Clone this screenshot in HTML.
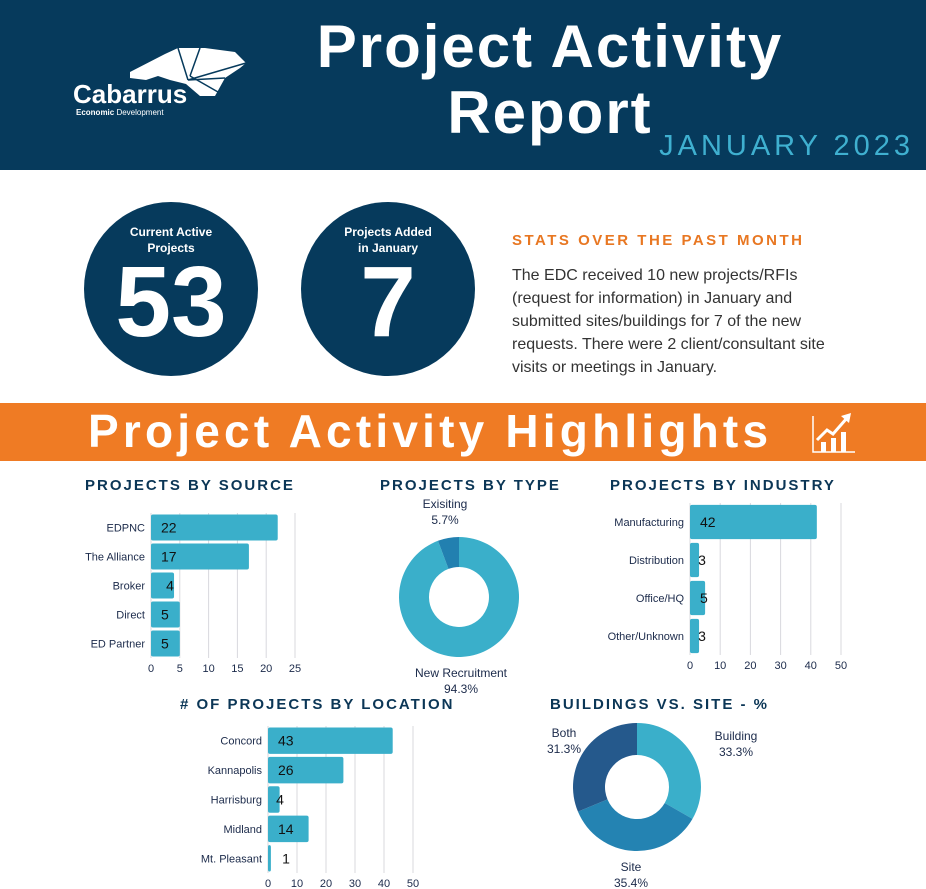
<!DOCTYPE html>
<html><head><meta charset="utf-8">
<style>
body{margin:0;width:926px;height:889px;overflow:hidden;background:#fff;font-family:"Liberation Sans",sans-serif;position:relative}
.abs{position:absolute}
.h{color:#0b3656;font-weight:bold;letter-spacing:2px;font-size:15px;white-space:nowrap}
</style></head><body>
<div class="abs" style="left:0;top:0;width:926px;height:170px;background:#063a5c"></div>
<svg class="abs" style="left:60px;top:40px" width="200" height="80" viewBox="0 0 200 80">
<polygon points="70,32 105,14 118,8 145,8 175,12 186,23 180,28 165,38 155,56 140,56 126,44 110,40 98,36 86,40 70,38" fill="#fff"/>
<path d="M118,8 L128,40 M140,8 L130,36 M128,40 L186,23 M128,40 L165,38 M130,36 L158,52" stroke="#063a5c" stroke-width="1.5"/>
<text x="13" y="63" fill="#fff" font-size="26" font-weight="bold" font-family="Liberation Sans">Cabarrus</text>
<text x="16" y="75" fill="#fff" font-size="8" font-family="Liberation Sans"><tspan font-weight="bold">Economic</tspan> Development</text>
</svg>
<div class="abs" style="left:280px;top:14px;width:540px;text-align:center;color:#fff;font-weight:bold;font-size:60px;line-height:66px;letter-spacing:2px">Project Activity<br>Report</div>
<div class="abs" style="right:12px;top:130px;color:#3fb0d0;font-size:29px;letter-spacing:4px">JANUARY 2023</div>

<div class="abs" style="left:84px;top:202px;width:174px;height:174px;border-radius:50%;background:#063a5c;color:#fff;text-align:center">
<div style="margin-top:22px;font-size:12px;font-weight:bold;line-height:16px">Current Active<br>Projects</div>
<div style="font-size:100px;font-weight:bold;line-height:92px">53</div></div>
<div class="abs" style="left:301px;top:202px;width:174px;height:174px;border-radius:50%;background:#063a5c;color:#fff;text-align:center">
<div style="margin-top:22px;font-size:12px;font-weight:bold;line-height:16px">Projects Added<br>in January</div>
<div style="font-size:100px;font-weight:bold;line-height:92px">7</div></div>

<div class="abs" style="left:512px;top:232px;color:#e87722;font-weight:bold;font-size:15px;letter-spacing:2.5px">STATS OVER THE PAST MONTH</div>
<div class="abs" style="left:512px;top:264px;width:342px;color:#333;font-size:16px;line-height:23px">The EDC received 10 new projects/RFIs (request for information) in January and submitted sites/buildings for 7 of the new requests. There were 2 client/consultant site visits or meetings in January.</div>

<div class="abs" style="left:0;top:403px;width:926px;height:58px;background:#ef7b24"></div>
<div class="abs" style="left:88px;top:404px;color:#fff;font-weight:bold;font-size:46px;letter-spacing:4.2px;white-space:nowrap">Project Activity Highlights</div>
<svg class="abs" style="left:811px;top:410px" width="45" height="45" viewBox="0 0 45 45">
<path d="M2,6 V42 H44" stroke="#fff" stroke-width="1.5" fill="none"/>
<rect x="10" y="32" width="5" height="10" fill="#fff"/><rect x="20" y="28" width="5" height="14" fill="#fff"/><rect x="30" y="22" width="5" height="20" fill="#fff"/>
<path d="M6,30 L16,20 L22,24 L36,8" stroke="#fff" stroke-width="3" fill="none"/><polygon points="30,6 40,3 38,13" fill="#fff"/>
</svg>

<div class="abs h" style="left:85px;top:477px">PROJECTS BY SOURCE</div>
<div class="abs h" style="left:380px;top:477px">PROJECTS BY TYPE</div>
<div class="abs h" style="left:610px;top:477px">PROJECTS BY INDUSTRY</div>
<div class="abs h" style="left:180px;top:696px"># OF PROJECTS BY LOCATION</div>
<div class="abs h" style="left:550px;top:696px">BUILDINGS VS. SITE - %</div>

<svg id="c" class="abs" style="left:0;top:0" width="926" height="889"></svg>
<script>
const srcCats=["EDPNC","The Alliance","Broker","Direct","ED Partner"];
const srcVals=[22,17,4,5,5];
const srcTicks=[0,5,10,15,20,25];
const indCats=["Manufacturing","Distribution","Office/HQ","Other/Unknown"];
const indVals=[42,3,5,3];
const indTicks=[0,10,20,30,40,50];
const locCats=["Concord","Kannapolis","Harrisburg","Midland","Mt. Pleasant"];
const locVals=[43,26,4,14,1];
const locTicks=[0,10,20,30,40,50];
const typeCats=["New Recruitment","Exisiting"];
const typeVals=[94.3,5.7];
const bldCats=["Building","Site","Both"];
const bldVals=[33.3,35.4,31.3];

const svg=document.getElementById('c');
const NS="http://www.w3.org/2000/svg";
function mk(t,a,txt){const e=document.createElementNS(NS,t);for(const k in a)e.setAttribute(k,a[k]);if(txt!==undefined)e.textContent=txt;svg.appendChild(e);return e;}

function barChart(name,cats,vals,ticks,x0,x1,top,bottom,barFrac){
  const max=ticks[ticks.length-1];
  const sx=v=>x0+(v/max)*(x1-x0);
  ticks.forEach(t=>{
    const g=mk('line',{x1:sx(t),x2:sx(t),y1:top,y2:bottom,stroke:'#d8d8de','stroke-width':1});
    
    
    const l=mk('text',{x:sx(t),y:bottom+14,'text-anchor':'middle','font-size':11,fill:'#1b2a4a','font-family':'Liberation Sans'},t);
    
    
  });
  const band=(bottom-top)/cats.length, bh=band*barFrac;
  cats.forEach((c,i)=>{
    const cy=top+band*(i+0.5);
    const r=mk('rect',{x:x0,y:cy-bh/2,width:sx(vals[i])-x0,height:bh,rx:2,fill:'#3aafca'});
    
    
    const l=mk('text',{x:x0-6,y:cy+4,'text-anchor':'end','font-size':11,fill:'#1b2a4a','font-family':'Liberation Sans'},c);
    
    
    const v=mk('text',{x:x0+(vals[i]<5?12:10),y:cy+5,'text-anchor':vals[i]<5?'middle':'start','font-size':14,fill:'#111','font-family':'Liberation Sans'},vals[i]);
    if(vals[i]<5)v.setAttribute('x',Math.max(sx(vals[i])-4,x0+12)+(vals[i]<3?6:0));
    
    
  });
}
barChart('source',srcCats,srcVals,srcTicks,151,295,513,658,0.9);
barChart('industry',indCats,indVals,indTicks,690,841,503,655,0.9);
barChart('location',locCats,locVals,locTicks,268,413,726,873,0.9);

function donut(name,vals,colors,cx,cy,R,r){
  const tot=vals.reduce((a,b)=>a+b,0);let a=-Math.PI/2;
  vals.forEach((v,i)=>{
    const b=a+v/tot*2*Math.PI,lg=(b-a)>Math.PI?1:0;
    const p=(ang,rad)=>(cx+rad*Math.cos(ang)).toFixed(2)+','+(cy+rad*Math.sin(ang)).toFixed(2);
    const d='M'+p(a,R)+' A'+R+','+R+' 0 '+lg+' 1 '+p(b,R)+' L'+p(b,r)+' A'+r+','+r+' 0 '+lg+' 0 '+p(a,r)+' Z';
    const s=mk('path',{d:d,fill:colors[i]});
    
    
    a=b;
  });
}
donut('type',typeVals,['#3aafca','#2280b0'],459,597,60,30);
donut('buildings',bldVals,['#3aafca','#2483b2','#25598c'],637,787,64,32);

function lab(name,x,y,a,b){
  const t=mk('text',{x:x,y:y,'text-anchor':'middle','font-size':12,fill:'#1b2a4a','font-family':'Liberation Sans'},a);
  
  
  const u=mk('text',{x:x,y:y+16,'text-anchor':'middle','font-size':12,fill:'#1b2a4a','font-family':'Liberation Sans'},b);
  
  
}
lab('type-label-existing',445,508,typeCats[1],typeVals[1]+'%');
lab('type-label-new',461,677,typeCats[0],typeVals[0]+'%');
lab('buildings-label-building',736,740,bldCats[0],bldVals[0]+'%');
lab('buildings-label-site',631,871,bldCats[1],bldVals[1]+'%');
lab('buildings-label-both',564,737,bldCats[2],bldVals[2]+'%');
</script>
</body></html>
